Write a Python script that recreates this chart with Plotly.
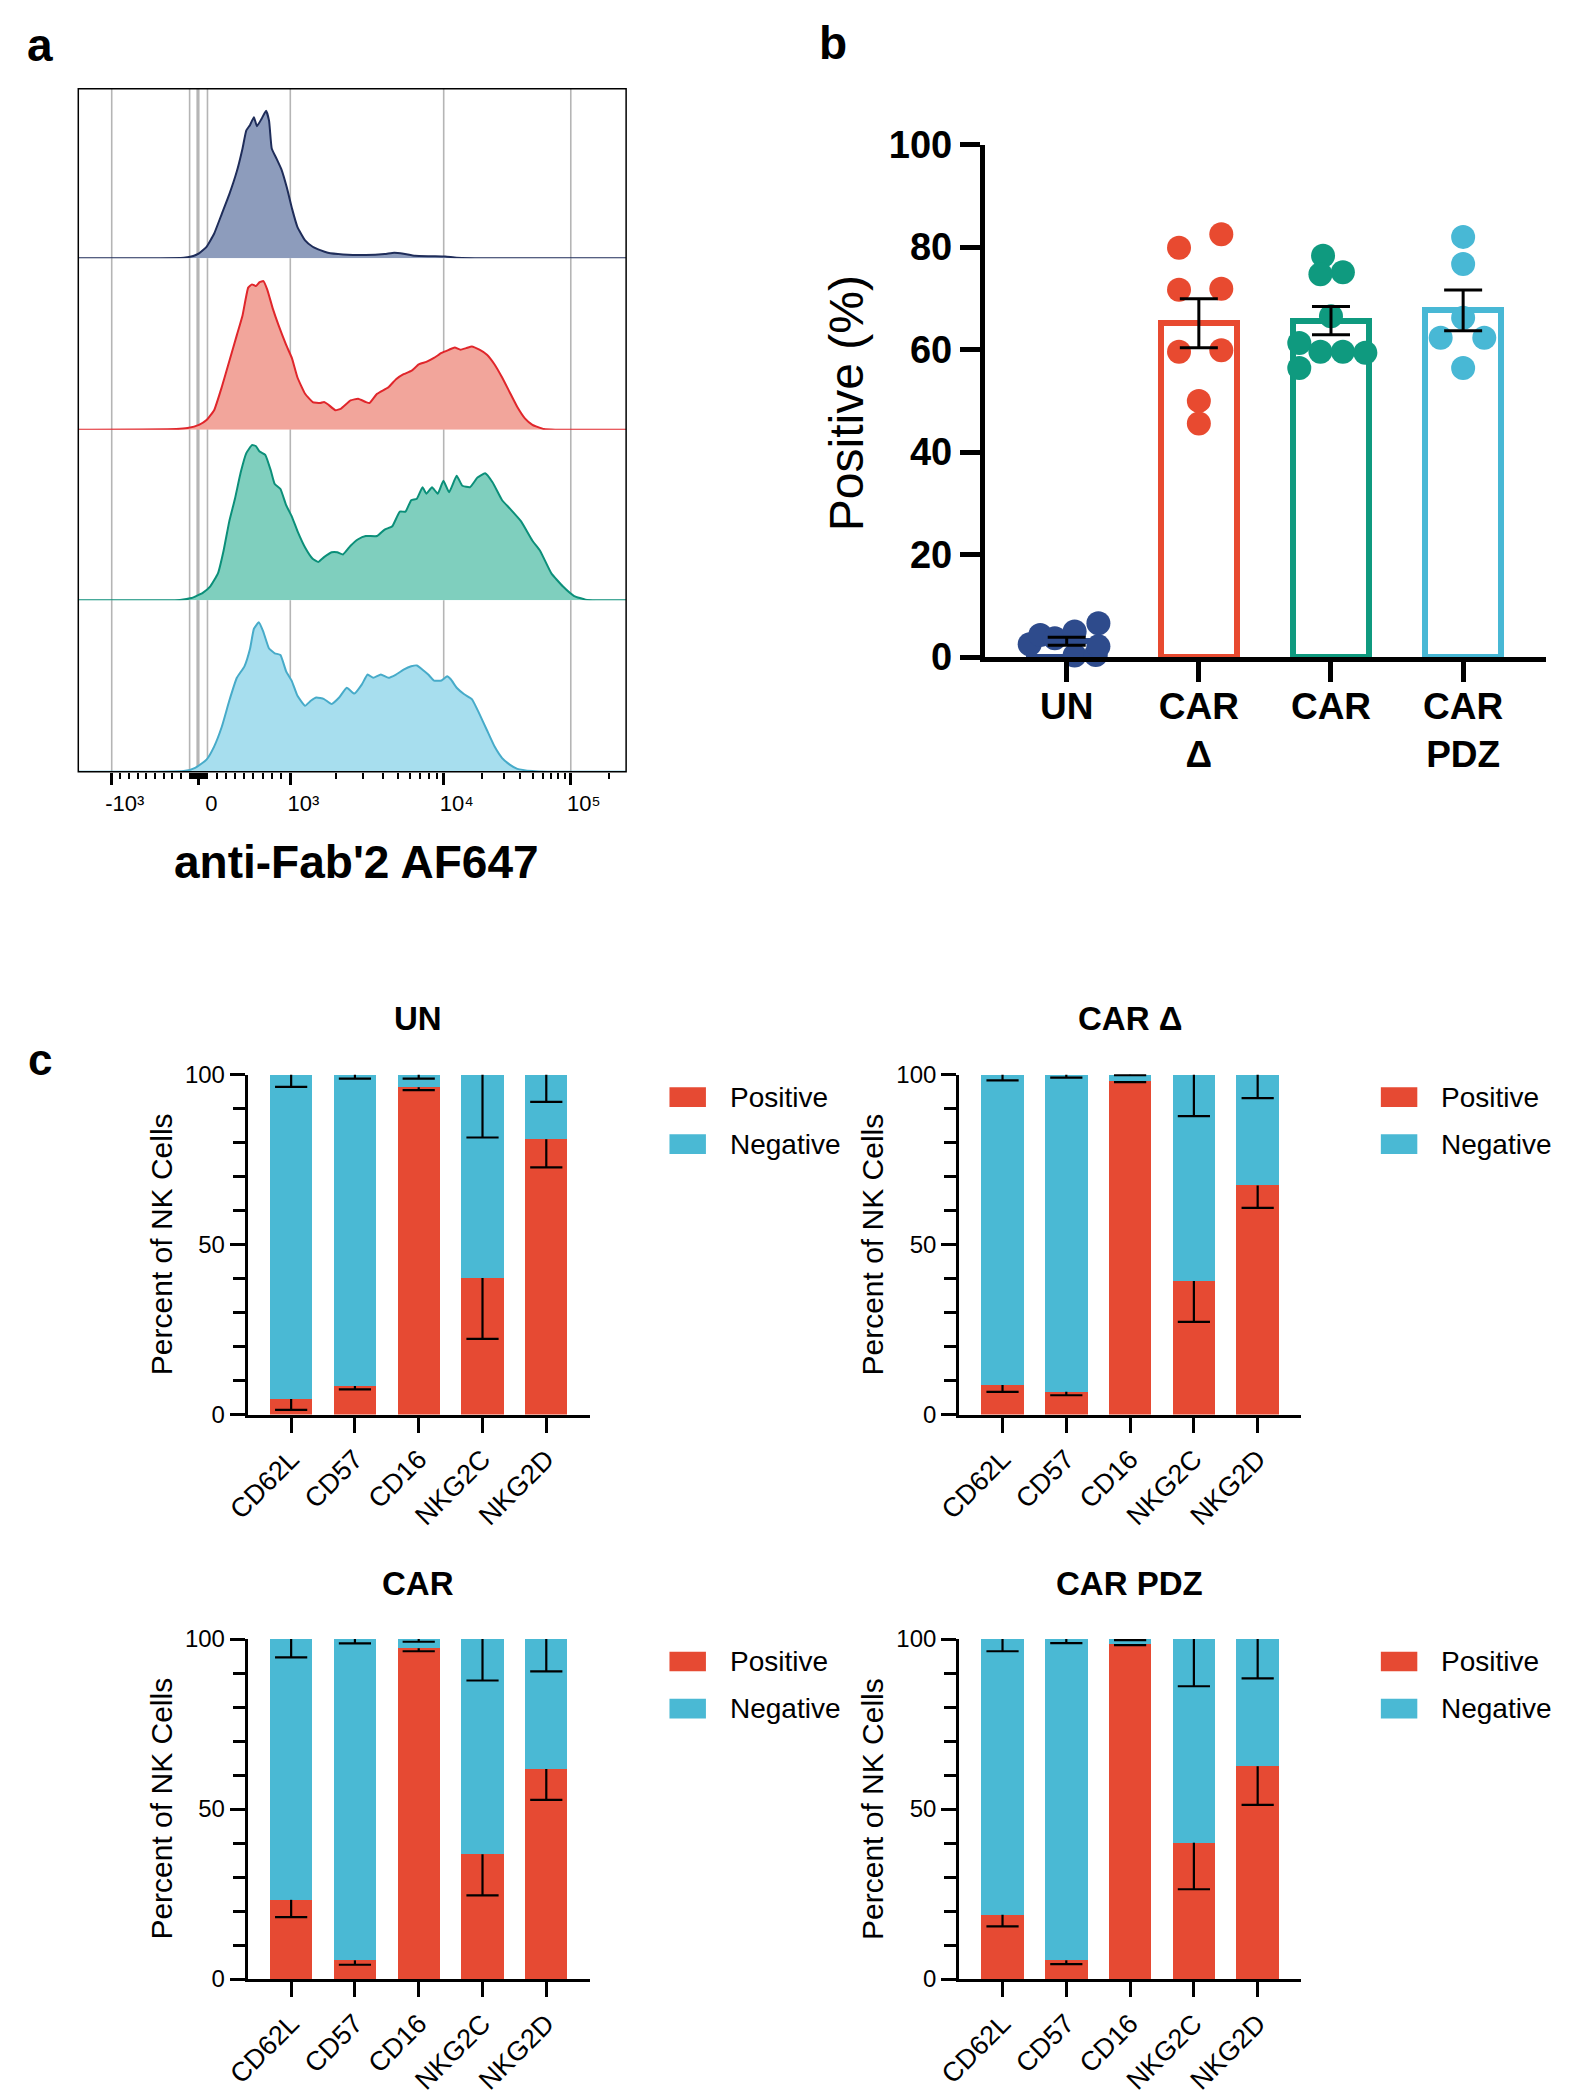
import numpy as np
import plotly.graph_objects as go

# the page body keeps an 8 px default margin, so the figure is shrunk by that amount
PAGE_W, PAGE_H, BODY = 1572, 2100, 8
W, H = PAGE_W - BODY, PAGE_H - BODY
FONT = "Liberation Sans, Arial, Helvetica, sans-serif"

# ====================== Panel a : flow cytometry histograms ======================
hist_names = ["UN", "CAR Δ", "CAR", "CAR PDZ"]
# x: position on the biexponential display scale (channel 0-1000), y: event count (% of row max)
un_ch = [0, 192.6, 209.9, 220.3, 234.1, 247.9, 261.8, 275.6, 289.4, 299.8, 306.7, 313.6, 320.6, 326.1,
         334.4, 342.7, 348.2, 353.1, 362.1, 371.1, 380.8, 390.4, 400.1, 414.0, 427.8, 441.6, 455.5,
         483.2, 524.7, 559.2, 576.6, 593.8, 614.6, 642.3, 669.9, 690.7, 759.9, 1000]
un_cnt = [0, 0.4, 1.4, 2.9, 6.8, 14.5, 26.1, 37.7, 51.3, 64.8, 75.4, 78.7, 83.2, 77.9,
          82.2, 87.0, 81.2, 64.8, 58.6, 52.2, 41.6, 29.0, 18.4, 10.6, 6.8, 4.8, 3.3,
          2.3, 1.9, 2.5, 3.3, 2.7, 1.5, 1.2, 1.0, 0.4, 0, 0]

car_delta_ch = [0, 178.8, 199.5, 220.3, 234.1, 247.9, 261.8, 275.6, 289.4, 299.8, 310.2, 317.1, 324.0,
                331.0, 337.9, 344.8, 355.2, 365.5, 379.4, 389.8, 400.1, 414.0, 427.8, 441.6, 448.6,
                455.5, 469.3, 479.7, 497.0, 510.8, 524.7, 531.6, 545.4, 566.2, 580.0, 593.8, 607.7,
                621.5, 635.3, 649.2, 663.0, 676.9, 687.2, 697.6, 708.0, 718.4, 732.2, 746.0, 759.9,
                773.7, 787.5, 801.4, 815.2, 829.0, 849.8, 870.6, 1000]
car_delta_cnt = [0, 0.4, 1.0, 2.9, 5.7, 11.4, 24.8, 40.0, 55.2, 66.7, 82.9, 84.8, 83.8,
                 86.1, 86.7, 81.9, 70.5, 61.0, 49.5, 41.9, 30.5, 21.0, 16.2, 15.6, 16.2,
                 14.9, 11.4, 12.4, 17.1, 18.1, 16.2, 15.6, 21.0, 24.8, 29.5, 32.4, 34.3,
                 38.1, 39.6, 41.9, 44.8, 46.7, 48.0, 46.7, 47.6, 48.6, 46.7, 43.8, 38.1,
                 30.5, 21.9, 13.3, 6.7, 2.9, 0.4, 0, 0]

car_ch = [0, 185.7, 206.4, 227.2, 241.0, 254.9, 265.2, 275.6, 286.0, 296.4, 306.7, 317.1, 324.0,
          331.0, 341.3, 351.7, 358.6, 369.0, 379.4, 389.8, 400.1, 414.0, 427.8, 438.2, 448.6,
          462.4, 472.8, 483.2, 497.0, 510.8, 524.7, 545.4, 559.2, 573.1, 586.9, 597.3, 607.7,
          618.0, 628.4, 635.3, 645.7, 656.1, 666.5, 676.9, 690.7, 701.1, 714.9, 728.7, 742.6,
          756.4, 773.7, 787.5, 808.3, 829.0, 842.9, 863.6, 884.4, 905.2, 925.9, 946.7, 1000]
car_cnt = [0, 0.2, 1.3, 4.4, 8.2, 15.8, 29.1, 46.3, 59.6, 74.9, 86.3, 91.0, 90.5,
           87.2, 85.3, 75.8, 68.2, 65.3, 55.8, 49.1, 40.6, 31.0, 24.4, 22.5, 25.3,
           28.2, 28.2, 26.9, 32.0, 35.8, 37.7, 37.7, 41.5, 43.4, 52.0, 52.0, 58.7,
           59.6, 66.3, 62.5, 66.3, 62.5, 70.1, 63.4, 73.0, 67.2, 66.3, 72.0, 74.5,
           69.1, 58.7, 53.9, 46.3, 34.9, 29.1, 15.8, 8.2, 2.5, 0.4, 0, 0]

car_pdz_ch = [0, 192.6, 213.3, 234.1, 247.9, 261.8, 275.6, 289.4, 303.3, 313.6, 320.6, 329.6, 337.9,
              348.2, 358.6, 369.0, 379.4, 389.8, 400.1, 414.0, 424.4, 434.7, 448.6, 462.4, 476.2,
              490.1, 503.9, 517.7, 528.1, 538.5, 552.3, 566.2, 580.0, 593.8, 607.7, 618.0, 628.4,
              638.8, 649.2, 663.0, 673.4, 680.3, 690.7, 704.5, 718.4, 732.2, 746.0, 759.9, 773.7,
              787.5, 801.4, 829.0, 856.7, 1000]
car_pdz_cnt = [0, 0.4, 2.3, 7.1, 14.7, 26.1, 41.4, 54.8, 61.5, 71.9, 83.4, 87.2, 81.5,
               71.9, 69.1, 68.1, 58.6, 52.9, 44.3, 38.5, 41.4, 43.3, 42.4, 39.5, 43.3,
               49.0, 45.6, 51.0, 56.7, 54.8, 56.7, 54.8, 56.7, 59.5, 61.5, 62.0, 59.5,
               56.7, 53.2, 53.2, 55.7, 53.8, 49.0, 45.2, 42.4, 33.8, 24.2, 14.7, 8.0,
               4.2, 1.7, 0.4, 0, 0]

hist_line_colors = ["#1f2d5a", "#e0262b", "#0b8f79", "#47abc9"]
hist_fill_colors = ["#8d9cbc", "#f2a59b", "#7fcfbe", "#a7deee"]

# axis decoration values (fluorescence units)
a_major_values = [-1000, 0, 1000, 10000, 100000]
a_major_labels = ["-10³", "0", "10³", "10⁴", "10⁵"]
a_grid_values = [-1000, -100, -12, 0, 100, 1000, 10000, 100000]
a_minor_values = ([-v for v in range(100, 1000, 100)] + [-v for v in range(10, 100, 10)]
                  + list(range(10, 100, 10)) + list(range(100, 1000, 100))
                  + list(range(2000, 10000, 1000)) + list(range(20000, 100000, 10000)) + [200000])


def to_channel(v):
    """biexponential display: linear around zero, logarithmic above 10^3"""
    if v <= 1000:
        return float(np.interp(v, [-1000, 0, 1000], [61, 219, 387]))
    return float(np.interp(np.log10(v), [3, 4, 5, 6], [387, 667, 899, 1131]))


# ====================== Panel b : % positive ======================
b_groups = ["UN", "CAR<br>Δ", "CAR", "CAR<br>PDZ"]
b_colors = ["#2e4b8c", "#e84a30", "#0f9a7f", "#48b8d5"]
b_un = [2.5, 4.3, 3.7, 5.0, 6.6, 0.3, 0.4, 2.1]
b_car_delta = [82.5, 79.9, 71.7, 71.9, 59.6, 59.9, 50.0, 45.6]
b_car = [78.3, 75.1, 74.7, 66.5, 61.3, 59.6, 59.6, 59.4, 56.4]
b_car_pdz = [82.0, 76.7, 66.2, 62.3, 62.3, 56.4]
# horizontal swarm offsets of the dots (category units)
b_un_off = [-0.28, -0.20, -0.09, 0.06, 0.24, 0.06, 0.22, 0.24]
b_car_delta_off = [0.17, -0.15, -0.15, 0.17, -0.15, 0.17, 0.0, 0.0]
b_car_off = [-0.06, 0.09, -0.08, 0.0, -0.24, -0.08, 0.09, 0.26, -0.24]
b_car_pdz_off = [0.0, 0.0, 0.0, -0.17, 0.16, 0.0]

# ====================== Panel c : NK phenotype ======================
c_markers = ["CD62L", "CD57", "CD16", "NKG2C", "NKG2D"]
c_titles = ["UN", "CAR Δ", "CAR", "CAR PDZ"]
c_un_pos = [4.6, 8.4, 96.3, 40.2, 81.0]
c_un_pos_sem = [3.2, 1.0, 0.9, 17.9, 8.3]
c_un_neg_sem = [3.6, 1.2, 1.2, 18.5, 8.0]
c_car_delta_pos = [8.7, 6.7, 98.0, 39.3, 67.4]
c_car_delta_pos_sem = [2.0, 1.0, 0.2, 12.0, 6.6]
c_car_delta_neg_sem = [1.7, 0.9, 0.2, 12.2, 6.9]
c_car_pos = [23.3, 5.5, 97.3, 36.7, 61.8]
c_car_pos_sem = [5.1, 1.3, 0.9, 12.1, 9.1]
c_car_neg_sem = [5.4, 1.3, 0.8, 12.2, 9.5]
c_car_pdz_pos = [18.9, 5.5, 98.5, 40.1, 62.6]
c_car_pdz_pos_sem = [3.4, 1.1, 0.3, 13.7, 11.4]
c_car_pdz_neg_sem = [3.6, 1.2, 0.3, 13.9, 11.6]
c_pos_color = "#e64a33"
c_neg_color = "#4ab9d4"


# ---------------------------------------------------------------------------
# page-pixel -> paper helpers
def px(p):
    return (p - BODY) / W


def py(p):
    return 1 - (p - BODY) / H


def xd(p0, p1):
    return [px(p0), px(p1)]


def yd(top, bottom):
    return [py(bottom), py(top)]


fig = go.Figure()
layout = dict(width=W, height=H, margin=dict(l=0, r=0, t=0, b=0),
              paper_bgcolor="white", plot_bgcolor="rgba(0,0,0,0)",
              showlegend=False, barmode="stack",
              font=dict(family=FONT, color="black"))
annotations = []
shapes = []

# ---------------- Panel a ----------------
a_x = xd(56, 612)
row_edges = [69, 242, 417, 591, 766]
hist_ch = [un_ch, car_delta_ch, car_ch, car_pdz_ch]
hist_cnt = [un_cnt, car_delta_cnt, car_cnt, car_pdz_cnt]
major_ch = [to_channel(v) for v in a_major_values]
minor_ch = [to_channel(v) for v in a_minor_values]

for i in range(4):
    n = i + 1
    sx = "" if n == 1 else str(n)
    # grey gate/decade lines behind the histograms
    for v in a_grid_values:
        c = to_channel(v)
        shapes.append(dict(type="line", xref="x" + sx, yref="y" + sx + " domain",
                           x0=c, x1=c, y0=0, y1=1, layer="below",
                           line=dict(color="#b5b5b5", width=2.6 if v == 0 else 1.6)))
    fig.add_trace(go.Scatter(
        x=hist_ch[i], y=hist_cnt[i], mode="lines", name=hist_names[i],
        line=dict(color=hist_line_colors[i], width=2, shape="spline", smoothing=0.4),
        fill="tozeroy", fillcolor=hist_fill_colors[i],
        xaxis="x" + sx, yaxis="y" + sx, hoverinfo="skip"))
    xa = dict(domain=a_x, anchor="y" + sx, range=[0, 1000], zeroline=False, showgrid=False,
              showticklabels=False, ticks="", showline=False, fixedrange=True)
    if n == 4:
        xa.update(tickmode="array", tickvals=major_ch, ticktext=a_major_labels,
                  showticklabels=True, ticks="outside", ticklen=12, tickwidth=2.6,
                  tickcolor="black", tickfont=dict(size=22), ticklabelshift=13,
                  minor=dict(tickmode="array", tickvals=minor_ch, ticks="outside",
                             ticklen=6, tickwidth=2, tickcolor="black", showgrid=False))
    ya = dict(domain=yd(row_edges[i], row_edges[i + 1]), anchor="x" + sx, range=[0, 100],
              showgrid=False, zeroline=False, showticklabels=False, ticks="",
              showline=False, fixedrange=True)
    layout["xaxis" + sx] = xa
    layout["yaxis" + sx] = ya

shapes.append(dict(type="rect", xref="paper", yref="paper",
                   x0=a_x[0], x1=a_x[1], y0=py(766), y1=py(69),
                   line=dict(color="black", width=1.5)))
annotations.append(dict(text="<b>anti-Fab'2 AF647</b>", x=px(338), y=py(858),
                        xref="paper", yref="paper", showarrow=False,
                        font=dict(size=46), xanchor="center", yanchor="middle"))

# ---------------- Panel b ----------------
b_vals = [b_un, b_car_delta, b_car, b_car_pdz]
b_offs = [b_un_off, b_car_delta_off, b_car_off, b_car_pdz_off]
b_means = [float(np.mean(v)) for v in b_vals]
b_sems = [float(np.std(v, ddof=1) / np.sqrt(len(v))) for v in b_vals]

fig.add_trace(go.Bar(x=list(range(4)), y=b_means, width=0.57,
                     marker=dict(color="white", line=dict(color=b_colors, width=6)),
                     xaxis="x5", yaxis="y5", hoverinfo="skip"))
for i in range(4):
    fig.add_trace(go.Scatter(
        x=[i + o for o in b_offs[i]], y=b_vals[i], mode="markers",
        marker=dict(size=24, color=b_colors[i], line=dict(width=0)),
        xaxis="x5", yaxis="y5", cliponaxis=False, name=b_groups[i]))
fig.add_trace(go.Scatter(
    x=list(range(4)), y=b_means, mode="markers",
    marker=dict(size=1, color="rgba(0,0,0,0)"),
    error_y=dict(type="data", array=b_sems, visible=True, color="black",
                 thickness=3, width=19),
    xaxis="x5", yaxis="y5", cliponaxis=False, hoverinfo="skip"))

layout["xaxis5"] = dict(domain=xd(976, 1546), anchor="y5", range=[-0.62, 3.63],
                        tickmode="array", tickvals=list(range(4)),
                        ticktext=["<b>%s</b>" % g for g in b_groups],
                        tickfont=dict(size=37), ticklabelstandoff=-8,
                        ticks="outside", ticklen=20, tickwidth=5,
                        tickcolor="black", showline=True, linewidth=5, linecolor="black",
                        showgrid=False, zeroline=False, fixedrange=True)
layout["yaxis5"] = dict(domain=yd(126, 649), anchor="x5", range=[0, 100],
                        tickmode="linear", tick0=0, dtick=20,
                        tickfont=dict(size=38, weight="bold"), ticks="outside", ticklen=20,
                        tickwidth=5, tickcolor="black", showline=True, linewidth=5,
                        linecolor="black", showgrid=False, zeroline=False, fixedrange=True)
annotations.append(dict(text="Positive (%)", x=px(836), y=py(390), xref="paper", yref="paper",
                        textangle=-90, showarrow=False, font=dict(size=48),
                        xanchor="center", yanchor="middle"))

# ---------------- Panel c ----------------
c_pos = [c_un_pos, c_car_delta_pos, c_car_pos, c_car_pdz_pos]
c_pos_sem = [c_un_pos_sem, c_car_delta_pos_sem, c_car_pos_sem, c_car_pdz_pos_sem]
c_neg_sem = [c_un_neg_sem, c_car_delta_neg_sem, c_car_neg_sem, c_car_pdz_neg_sem]
c_x_left = [228, 950, 228, 950]
c_y_top = [1075, 1075, 1651, 1651]
plot_w, plot_h = 347, 347
idx = list(range(len(c_markers)))

for k in range(4):
    n = 6 + k
    sx = str(n)
    pos = c_pos[k]
    neg = [100 - p for p in pos]
    fig.add_trace(go.Bar(x=idx, y=pos, width=0.665, marker=dict(color=c_pos_color, line=dict(width=0)),
                         name="Positive", xaxis="x" + sx, yaxis="y" + sx, hoverinfo="skip"))
    fig.add_trace(go.Bar(x=idx, y=neg, width=0.665, marker=dict(color=c_neg_color, line=dict(width=0)),
                         name="Negative", xaxis="x" + sx, yaxis="y" + sx, hoverinfo="skip"))
    # SEM drawn downward from each segment's top
    for tops, sems in ((pos, c_pos_sem[k]), ([100.0] * len(idx), c_neg_sem[k])):
        fig.add_trace(go.Scatter(
            x=idx, y=[t - s for t, s in zip(tops, sems)], mode="markers",
            marker=dict(symbol="line-ew", size=23, color="black", line=dict(width=2.2, color="black")),
            error_y=dict(type="data", symmetric=False, array=sems, arrayminus=[0] * len(idx),
                         width=0, thickness=2.2, color="black"),
            xaxis="x" + sx, yaxis="y" + sx, cliponaxis=False, hoverinfo="skip"))
    x0 = c_x_left[k]
    ytop = c_y_top[k]
    layout["xaxis" + sx] = dict(domain=xd(x0, x0 + plot_w), anchor="y" + sx, range=[-0.68, 4.68],
                                tickmode="array", tickvals=idx, ticktext=c_markers, tickangle=-45,
                                tickfont=dict(size=27), ticks="outside", ticklen=15, tickwidth=2.5,
                                tickcolor="black", showline=True, linewidth=3, linecolor="black",
                                showgrid=False, zeroline=False, fixedrange=True)
    layout["yaxis" + sx] = dict(domain=yd(ytop, ytop + plot_h), anchor="x" + sx, range=[0, 100],
                                tickmode="linear", tick0=0, dtick=50, tickfont=dict(size=24),
                                ticks="outside", ticklen=15, tickwidth=2.5, tickcolor="black",
                                minor=dict(tickmode="linear", tick0=0, dtick=10, ticks="outside",
                                           ticklen=12, tickwidth=2.5, tickcolor="black", showgrid=False),
                                showline=True, linewidth=3, linecolor="black",
                                showgrid=False, zeroline=False, fixedrange=True)
    # subplot title
    annotations.append(dict(text="<b>%s</b>" % c_titles[k], x=px(x0 + 173), y=py(ytop - 57),
                            xref="paper", yref="paper", showarrow=False, font=dict(size=33),
                            xanchor="center", yanchor="middle"))
    # y title
    annotations.append(dict(text="Percent of NK Cells", x=px(x0 - 88), y=py(ytop + 173),
                            xref="paper", yref="paper", textangle=-90, showarrow=False,
                            font=dict(size=30), xanchor="center", yanchor="middle"))
    # legend
    for j, (lab, colr) in enumerate((("Positive", c_pos_color), ("Negative", c_neg_color))):
        yc = ytop + 23 + 48 * j
        shapes.append(dict(type="rect", xref="paper", yref="paper",
                           x0=px(x0 + 428), x1=px(x0 + 465), y0=py(yc + 10), y1=py(yc - 10),
                           fillcolor=colr, line=dict(width=0)))
        annotations.append(dict(text=lab, x=px(x0 + 487), y=py(yc), xref="paper", yref="paper",
                                showarrow=False, font=dict(size=28), xanchor="left", yanchor="middle"))

# panel letters
for lab, xx, yy, sz in (("a", 17, 24, 46), ("b", 822, 22, 46), ("c", 17, 1060, 44)):
    annotations.append(dict(text="<b>%s</b>" % lab, x=px(xx), y=py(yy), xref="paper", yref="paper",
                            showarrow=False, font=dict(size=sz), xanchor="center", yanchor="middle"))

layout["annotations"] = annotations
layout["shapes"] = shapes
fig.update_layout(**layout)
fig.write_html("out.html")
